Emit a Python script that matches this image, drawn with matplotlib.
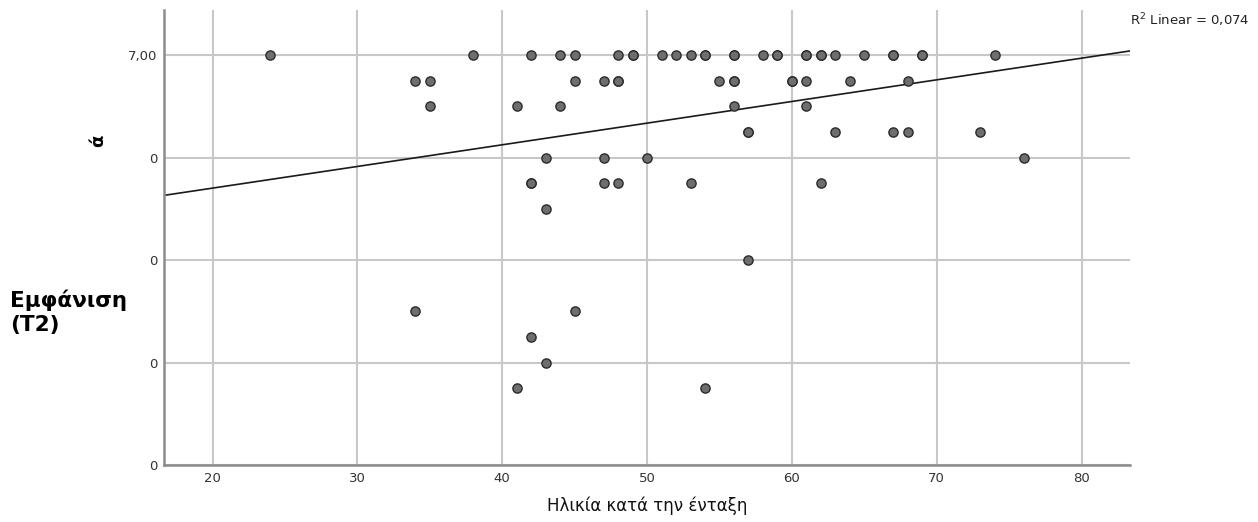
import numpy as np
import matplotlib.pyplot as plt

# age at entry vs score (repeated entries are overlapping cases)
age = [24, 38, 42, 44, 45, 48, 49, 49, 51, 52, 53, 54, 54, 56, 56, 58, 59, 59,
       61, 61, 62, 62, 63, 65, 67, 67, 69, 69, 74,
       34, 35, 45, 47, 48, 48, 55, 56, 56, 60, 60, 61, 64, 68,
       35, 41, 44, 56, 61,
       57, 57, 63, 67, 68, 73,
       43, 47, 50, 76,
       42, 42, 47, 48, 53, 62,
       43,
       57,
       34, 45,
       42,
       43,
       41, 54]
score = ([7.0] * 29 + [6.75] * 14 + [6.5] * 5 + [6.25] * 6 + [6.0] * 4 +
         [5.75] * 6 + [5.5] + [5.0] + [4.5] * 2 + [4.25] + [4.0] + [3.75] * 2)

x_ticks = [20, 30, 40, 50, 60, 70, 80]
y_ticks = [3, 4, 5, 6, 7]
y_tick_labels = ['0', '0', '0', '0', '7,00']
r2_text = 'R$^2$ Linear = 0,074'

fig = plt.figure(figsize=(12.58, 5.22), dpi=100)
ax = fig.add_axes([0.1304, 0.1092, 0.7679, 0.8716])

ax.set_xlim(16.65, 83.35)
ax.set_ylim(3, 7.44)

ax.grid(True, color='#c8c8c8', linewidth=1.5, zorder=0)
ax.set_axisbelow(True)

# fit line over full x range
slope, intercept = np.polyfit(age, score, 1)
xs = np.array(ax.get_xlim())
ax.plot(xs, intercept + slope * xs, color='#1a1a1a', linewidth=1.2, zorder=2)

ax.scatter(age, score, s=44, facecolor='#6e6e6e', edgecolor='#2b2b2b',
           linewidth=1.0, zorder=3)

ax.set_xticks(x_ticks)
ax.set_yticks(y_ticks)
ax.set_yticklabels(y_tick_labels)
ax.tick_params(length=0, labelsize=9.5, colors='#333333')
ax.tick_params(axis='x', pad=5)
ax.tick_params(axis='y', pad=5)

for side in ['top', 'right']:
    ax.spines[side].set_visible(False)
for side in ['left', 'bottom']:
    ax.spines[side].set_color('#8c8c8c')
    ax.spines[side].set_linewidth(1.8)

ax.set_xlabel('Ηλικία κατά την ένταξη', fontsize=12, color='#111111', labelpad=8)

fig.text(0.078, 0.73, 'ά', rotation=90, fontsize=13, fontweight='bold',
         ha='center', va='center')
fig.text(0.008, 0.402, 'Εμφάνιση\n(Τ2)', fontsize=15.5, fontweight='bold',
         ha='left', va='center', linespacing=1.2)
fig.text(0.898, 0.962, r2_text, fontsize=9.5, color='#222222', ha='left', va='center')

fig.savefig('out.png', dpi=100)
